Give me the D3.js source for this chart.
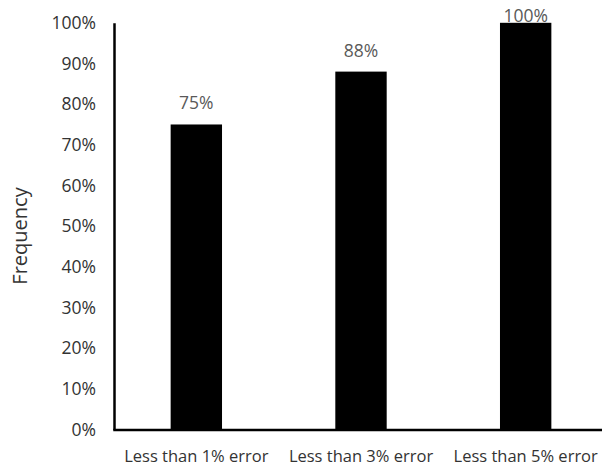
<!DOCTYPE html>
<html>
<head>
<meta charset="utf-8">
<script src="https://cdn.jsdelivr.net/npm/d3@7"></script>
<style>
  html, body { margin: 0; padding: 0; background: #fff; }
  svg { display: block; }
</style>
</head>
<body>
<script>
// Share of estimates within each error threshold
const categories = ["Less than 1% error", "Less than 3% error", "Less than 5% error"];
const frequency = [0.75, 0.88, 1.00];
const tickValues = [0, 0.1, 0.2, 0.3, 0.4, 0.5, 0.6, 0.7, 0.8, 0.9, 1.0];
const yTitle = "Frequency";

const W = 602, H = 467;
const fontFamily = "'Open Sans', 'Noto Sans', sans-serif";

const svg = d3.select("body").append("svg")
  .attr("width", W).attr("height", H);

const x = d3.scaleBand()
  .domain(categories)
  .range([114, 608])
  .paddingInner(0.688)
  .paddingOuter(0.344);

const y = d3.scaleLinear()
  .domain([0, 1])
  .range([429.5, 22.8]);

const pct = d3.format(".0%");

// Bars
svg.append("g")
  .selectAll("rect")
  .data(categories)
  .join("rect")
  .attr("x", d => x(d))
  .attr("width", x.bandwidth())
  .attr("y", (d, i) => y(frequency[i]))
  .attr("height", (d, i) => y(0) - y(frequency[i]))
  .attr("fill", "#000");

// Value labels above bars
svg.append("g")
  .selectAll("text")
  .data(categories)
  .join("text")
  .attr("x", d => x(d) + x.bandwidth() / 2)
  .attr("y", (d, i) => Math.max(y(frequency[i]) - 15, 21.7))
  .attr("text-anchor", "middle")
  .attr("font-family", fontFamily)
  .attr("font-size", 17.5)
  .attr("fill", "#595959")
  .text((d, i) => pct(frequency[i]));

// Y axis
const yAxis = svg.append("g")
  .attr("transform", `translate(${x.range()[0]},0)`)
  .call(d3.axisLeft(y)
    .tickValues(tickValues)
    .tickFormat(pct)
    .tickSize(0)
    .tickSizeOuter(0)
    .tickPadding(18));
yAxis.select(".domain")
  .attr("stroke", "#000")
  .attr("stroke-width", 2.5);
yAxis.selectAll("text")
  .attr("font-family", fontFamily)
  .attr("font-size", 17.5)
  .attr("fill", "#333");

// X axis
const xAxis = svg.append("g")
  .attr("transform", `translate(0,${y(0)})`)
  .call(d3.axisBottom(x).tickSize(0).tickSizeOuter(0));
xAxis.select(".domain")
  .attr("stroke", "#000")
  .attr("stroke-width", 2.5)
  .attr("stroke-linecap", "square");
xAxis.selectAll("text")
  .attr("y", 32)
  .attr("dy", null)
  .attr("font-family", fontFamily)
  .attr("font-size", 16.5)
  .attr("fill", "#333");

// Y axis title
svg.append("text")
  .attr("transform", `translate(26.5,236) rotate(-90)`)
  .attr("text-anchor", "middle")
  .attr("font-family", fontFamily)
  .attr("font-size", 20)
  .attr("fill", "#333")
  .text(yTitle);
</script>
</body>
</html>
